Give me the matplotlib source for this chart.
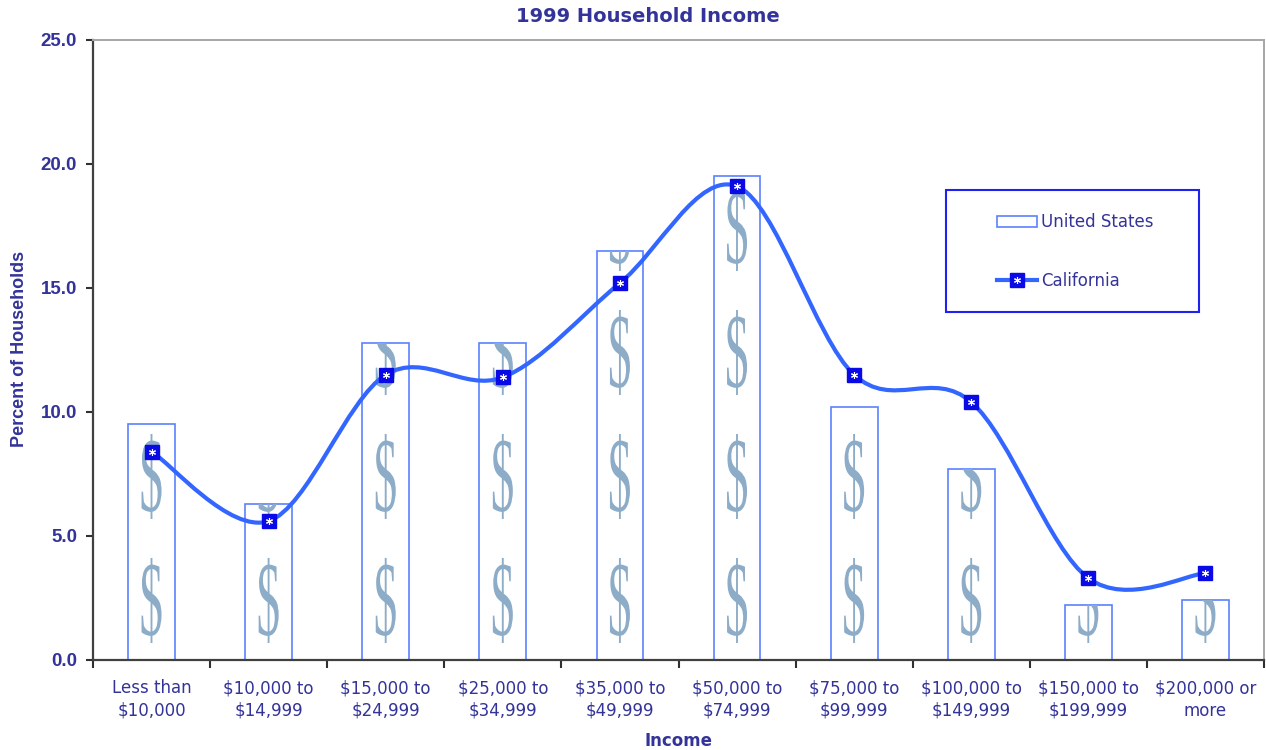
import matplotlib
matplotlib.use("Agg")
import matplotlib.pyplot as plt
import matplotlib.transforms as mtransforms
from matplotlib.path import Path
from matplotlib.patches import PathPatch, Rectangle
from matplotlib.lines import Line2D
from matplotlib.textpath import TextPath
from matplotlib.font_manager import FontProperties

# data
categories = ["Less than\n$10,000", "$10,000 to\n$14,999", "$15,000 to\n$24,999",
              "$25,000 to\n$34,999", "$35,000 to\n$49,999", "$50,000 to\n$74,999",
              "$75,000 to\n$99,999", "$100,000 to\n$149,999", "$150,000 to\n$199,999",
              "$200,000 or\nmore"]
united_states = [9.5, 6.3, 12.8, 12.8, 16.5, 19.5, 10.2, 7.7, 2.2, 2.4]
california = [8.4, 5.6, 11.5, 11.4, 15.2, 19.1, 11.5, 10.4, 3.3, 3.5]
yticks = [0, 5, 10, 15, 20, 25]

NAVY = "#333399"
LINE = "#3366ff"
BAR_EDGE = "#5a82ff"
MARK = "#0a0ae6"


def smooth_path(xs, ys):
    # catmull-rom style bezier, like excel's smoothed line
    n = len(xs)
    verts = [(xs[0], ys[0])]
    codes = [Path.MOVETO]
    for i in range(n - 1):
        a, b = max(i - 1, 0), min(i + 2, n - 1)
        c1 = (xs[i] + (xs[i + 1] - xs[a]) / 6, ys[i] + (ys[i + 1] - ys[a]) / 6)
        c2 = (xs[i + 1] - (xs[b] - xs[i]) / 6, ys[i + 1] - (ys[b] - ys[i]) / 6)
        verts += [c1, c2, (xs[i + 1], ys[i + 1])]
        codes += [Path.CURVE4] * 3
    return Path(verts, codes)


fig = plt.figure(figsize=(12.66, 7.5), dpi=100)
ax = fig.add_axes([93 / 1266, 90 / 750, 1171 / 1266, 620 / 750])

x = list(range(len(categories)))
bars = ax.bar(x, united_states, width=0.4, color="white", edgecolor=BAR_EDGE,
              linewidth=1.2, zorder=2)

# dollar sign fill inside the bars
dollar = TextPath((0, 0), "$", size=1, prop=FontProperties(family="Liberation Serif"))
ext = dollar.get_extents()
w_px, h_px = 20, 85
base = (mtransforms.Affine2D()
        .translate(-(ext.x0 + ext.x1) / 2, -(ext.y0 + ext.y1) / 2)
        .scale(w_px / 100 / ext.width, h_px / 100 / ext.height))
for xi, bar in zip(x, bars):
    yc = 2.4
    while yc < 26:
        tr = base + fig.dpi_scale_trans + mtransforms.ScaledTranslation(xi, yc, ax.transData)
        pp = PathPatch(dollar, transform=tr, facecolor="#8dacc8", edgecolor="none",
                       zorder=2.5)
        ax.add_patch(pp)
        pp.set_clip_path(bar)
        yc += 5.0

# smoothed california line
ax.add_patch(PathPatch(smooth_path(x, california), facecolor="none", edgecolor=LINE,
                       linewidth=3, zorder=3, capstyle="round"))
ax.plot(x, california, linestyle="none", marker="s", markersize=9.5,
        markerfacecolor=MARK, markeredgecolor=MARK, zorder=4)
ax.plot(x, california, linestyle="none", marker=(6, 2, 0), markersize=5,
        markeredgecolor="white", markeredgewidth=0.8, zorder=5)

ax.set_xlim(-0.5, len(categories) - 0.5)
ax.set_ylim(0, 25)
ax.set_yticks(yticks)
ax.set_yticklabels([f"{v:.1f}" for v in yticks], fontfamily="Liberation Sans",
                   fontweight="bold", fontsize=13.5, color=NAVY)
ax.set_xticks(x)
ax.set_xticklabels(categories, fontsize=12, color=NAVY, linespacing=1.3)
ax.set_xticks([i - 0.5 for i in range(len(categories) + 1)], minor=True)
ax.tick_params(axis="x", which="major", length=0, pad=14)
ax.tick_params(axis="x", which="minor", length=6, width=1.5, color="#303030", direction="out")
ax.tick_params(axis="y", length=5, width=1.5, color="#303030", pad=6.5)

for side in ["left", "bottom"]:
    ax.spines[side].set_color("#404040")
    ax.spines[side].set_linewidth(1.6)
for side in ["top", "right"]:
    ax.spines[side].set_color("#a6a6a6")
    ax.spines[side].set_linewidth(1.4)

fig.text(648 / 1266, 1 - 17 / 750, "1999 Household Income", ha="center", va="center",
         fontsize=14, fontweight="bold", color=NAVY)
fig.text(20 / 1266, 1 - 349 / 750, "Percent of Households", rotation=90, ha="center",
         va="center", fontsize=13, fontweight="bold", color=NAVY,
         fontfamily="Liberation Sans")
fig.text(679 / 1266, 1 - 741 / 750, "Income", ha="center", va="center",
         fontsize=12, fontweight="bold", color=NAVY)

# legend with its own frame
fig.patches.append(Rectangle((946 / 1266, 1 - 312 / 750), 253 / 1266, 122 / 750,
                             transform=fig.transFigure, facecolor="white",
                             edgecolor="#2020f0", linewidth=1.5, zorder=6))
h_us = Rectangle((0, 0), 1, 1, facecolor="white", edgecolor=BAR_EDGE, linewidth=1.2)
h_ca = (Line2D([], [], color=LINE, linewidth=3, marker="s", markersize=9.5,
               markerfacecolor=MARK, markeredgecolor=MARK),
        Line2D([], [], linestyle="none", marker=(6, 2, 0), markersize=5,
               markeredgecolor="white", markeredgewidth=0.8))
leg = fig.legend([h_us, h_ca], ["United States", "California"], loc="upper left",
                 bbox_to_anchor=(989 / 1266, 1 - 205 / 750), frameon=False,
                 borderpad=0, handlelength=2.4, handletextpad=0.2,
                 labelspacing=2.45, fontsize=12, labelcolor=NAVY)
leg.set_zorder(7)

fig.savefig("out.png", dpi=100)
